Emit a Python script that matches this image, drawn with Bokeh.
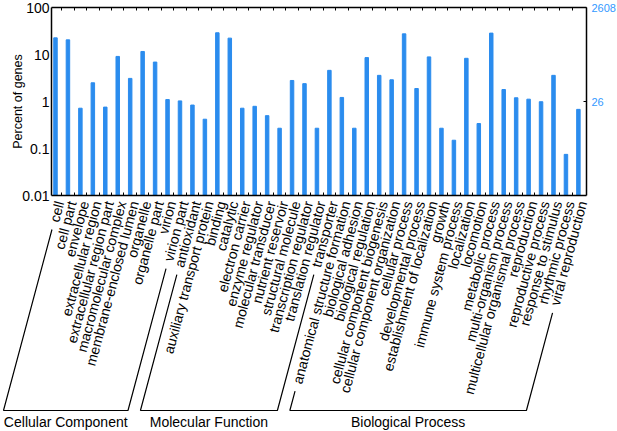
import math
from bokeh.plotting import figure
from bokeh.models import Range1d, LogAxis, LinearAxis, FixedTicker
from bokeh.core.properties import value
from bokeh.embed import file_html
from bokeh.resources import INLINE

# ---------------- data ----------------
cc_terms = ["cell", "cell part", "envelope", "extracellular region",
            "extracellular region part", "macromolecular complex",
            "membrane-enclosed lumen", "organelle", "organelle part",
            "virion", "virion part"]
cc_values = [22.6, 20.5, 0.72, 2.5, 0.76, 9.1, 3.1, 11.6, 6.9, 1.1, 1.03]

mf_terms = ["antioxidant", "auxiliary transport protein", "binding", "catalytic",
            "electron carrier", "enzyme regulator", "molecular transducer",
            "nutrient reservoir", "structural molecule", "transcription regulator",
            "translation regulator", "transporter"]
mf_values = [0.84, 0.42, 29.0, 22.3, 0.72, 0.79, 0.50, 0.27, 2.8, 2.4, 0.27, 4.6]

bp_terms = ["anatomical structure formation", "biological adhesion",
            "biological regulation", "cellular component biogenesis",
            "cellular component organization", "cellular process",
            "developmental process", "establishment of localization", "growth",
            "immune system process", "localization", "locomotion",
            "metabolic process", "multi-organism process",
            "multicellular organismal process", "reproduction",
            "reproductive process", "response to stimulus", "rhythmic process",
            "viral reproduction"]
bp_values = [1.22, 0.27, 8.6, 3.6, 2.9, 27.5, 1.89, 8.9, 0.27, 0.15, 8.3, 0.34,
             28.5, 1.8, 1.2, 1.12, 0.99, 3.6, 0.075, 0.68]

group_names = ["Cellular Component", "Molecular Function", "Biological Process"]
y_ticks = [0.01, 0.1, 1, 10, 100]
y_tick_labels = ["0.01", "0.1", "1", "10", "100"]
total_genes = 2608
count_ticks = [26, 2608]
count_tick_labels = ["26", "2608"]

# ---------------- layout (pixels) ----------------
W, H = 617, 431
PL, PR, PT, PB = 51, 586, 7, 195      # plot box inside the canvas
FONT = "Liberation Sans"
BAR = "#2b8cee"
BLUE = "#3399ff"

groups = [cc_terms, mf_terms, bp_terms]
terms = cc_terms + mf_terms + bp_terms
values = cc_values + mf_values + bp_values
n = len(terms)
pos = list(range(1, n + 1))
bounds = [i + 0.5 for i in pos[:-1]]

x0, x1 = 0.68, n + 0.65
ymin, ymax = y_ticks[0], y_ticks[-1]
ppu = (PR - PL) / (x1 - x0)
ppd = (PB - PT) / (math.log10(ymax) - math.log10(ymin))


def ydata(px_below):
    """log-axis value lying px_below pixels under the 0.01 baseline."""
    return 10 ** (math.log10(ymin) - px_below / ppd)


x_range = Range1d(x0 - PL / ppu, x1 + (W - PR) / ppu)
y_range = Range1d(ydata(H - PB), 10 ** (math.log10(ymax) + PT / ppd))

p = figure(width=W, height=H, output_backend="svg", toolbar_location=None,
           x_range=x_range, y_range=y_range, y_axis_type="log",
           min_border=0, min_border_left=0, min_border_right=0,
           min_border_top=0, min_border_bottom=0)
p.xgrid.visible = False
p.ygrid.visible = False
p.outline_line_color = None

p.vbar(x=pos, top=values, bottom=ymin, width=0.28, color=BAR)

# bottom axis: boundary ticks
xa = p.xaxis[0]
xa.fixed_location = ymin
xa.bounds = (x0, x1)
xa.ticker = FixedTicker(ticks=[], minor_ticks=bounds)
xa.major_label_text_font_size = "0px"
xa.major_tick_in = 0
xa.major_tick_out = 0
xa.minor_tick_in = 3
xa.minor_tick_out = 0
xa.minor_tick_line_color = "black"
xa.axis_line_width = 1.5
xa.axis_line_color = "black"

# top axis: ticks only
ta = LinearAxis(ticker=FixedTicker(ticks=[], minor_ticks=bounds),
                fixed_location=ymax, bounds=(x0, x1),
                major_label_text_font_size="0px",
                major_tick_in=0, major_tick_out=0,
                minor_tick_in=3, minor_tick_out=0, minor_tick_line_color="black",
                axis_line_width=1.5, axis_line_color="black")
p.add_layout(ta, "above")

# left axis
ya = p.yaxis[0]
ya.fixed_location = x0
ya.bounds = (ymin, ymax)
ya.ticker = FixedTicker(ticks=y_ticks)
ya.major_label_overrides = {v: s for v, s in zip(y_ticks, y_tick_labels)}
ya.major_label_text_font = FONT
ya.major_label_text_font_size = "14px"
ya.major_label_text_color = "black"
ya.major_label_standoff = 2
ya.major_tick_in = 0
ya.major_tick_out = 0
ya.minor_tick_in = 0
ya.minor_tick_out = 0
ya.axis_line_width = 1.5
ya.axis_line_color = "black"
ya.axis_label = "Percent of genes"
ya.axis_label_text_font = FONT
ya.axis_label_text_font_size = "12.5px"
ya.axis_label_text_font_style = "normal"
ya.axis_label_text_color = "black"
ya.axis_label_standoff = -6

# right axis (gene counts)
p.extra_y_ranges = {"count": Range1d(y_range.start * total_genes / 100.0,
                                     y_range.end * total_genes / 100.0)}
ra = LogAxis(y_range_name="count", ticker=FixedTicker(ticks=count_ticks),
             fixed_location=x1,
             bounds=(ymin * total_genes / 100.0, total_genes))
ra.major_label_overrides = {v: s for v, s in zip(count_ticks, count_tick_labels)}
ra.major_label_text_font = FONT
ra.major_label_text_font_size = "11px"
ra.major_label_text_color = BLUE
ra.major_label_standoff = 5
ra.major_tick_in = 3
ra.major_tick_out = 0
ra.minor_tick_in = 0
ra.minor_tick_out = 0
ra.major_tick_line_color = "black"
ra.axis_line_width = 1.5
ra.axis_line_color = "black"
p.add_layout(ra, "right")

# ---------------- category labels and group brackets ----------------
theta = math.radians(75)
ca, sa = math.cos(theta), math.sin(theta)
standoff = 6      # px under the baseline
shift = 4         # px right of the bar centre
LABEL_PX = 14

p.text(x=pos, y=[ydata(standoff)] * n, text=terms, angle=theta,
       x_offset=shift, text_align="right", text_baseline="middle",
       text_font=value(FONT), text_font_size=f"{LABEL_PX}px",
       text_color="black")

W_ARIAL = {" ": 278, "-": 333, "a": 556, "b": 556, "c": 500, "d": 556, "e": 556,
           "f": 278, "g": 556, "h": 556, "i": 222, "j": 222, "k": 500, "l": 222,
           "m": 833, "n": 556, "o": 556, "p": 556, "q": 556, "r": 333, "s": 500,
           "t": 278, "u": 556, "v": 500, "w": 722, "x": 500, "y": 500, "z": 500}


def text_len(s):
    return sum(W_ARIAL.get(c, 556) for c in s) / 1000.0 * LABEL_PX


drop = 215      # bracket's horizontal line, px below the baseline
gap = 8


def along(i, t):
    """point t px along the label direction of category i."""
    return i + (shift - t * ca) / ppu, ydata(standoff + t * sa)


t_bot = (drop - standoff) / sa
xs, ys, cx = [], [], []
start = 1
for g in groups:
    a, b = start, start + len(g) - 1
    start = b + 1
    bl, br = along(a, t_bot), along(b, t_bot)
    pts = []
    t_top = text_len(g[0]) + gap
    if t_top < t_bot:
        pts.append(along(a, t_top))
    pts += [bl, br]
    t_top = text_len(g[-1]) + gap
    if t_top < t_bot:
        pts.append(along(b, t_top))
    xs.append([pt[0] for pt in pts])
    ys.append([pt[1] for pt in pts])
    cx.append((bl[0] + br[0]) / 2)

p.multi_line(xs=xs, ys=ys, line_color="black", line_width=1.2)
p.text(x=cx, y=[ydata(drop + 11)] * len(cx), text=group_names,
       text_align="center", text_baseline="middle",
       text_font=value(FONT), text_font_size="14px", text_color="black")

open("out.html", "w").write(file_html(p, INLINE))
